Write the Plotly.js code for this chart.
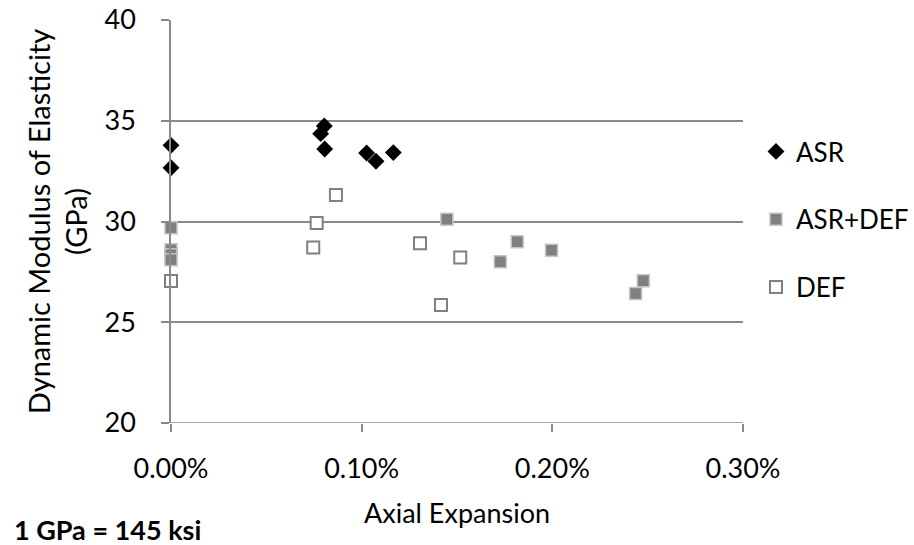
<!DOCTYPE html>
<html><head><meta charset="utf-8">
<script src="https://cdn.plot.ly/plotly-3.0.1.min.js"></script>
<style>html,body{margin:0;padding:0;background:#fff}#chart{width:914px;height:545px}</style>
</head><body><div id="chart"></div>
<script>
const asrX = [0, 0, 0.000804, 0.000785, 0.000806, 0.001026, 0.001075, 0.001166];
const asrY = [33.78, 32.67, 34.74, 34.36, 33.6, 33.4, 32.99, 33.42];
const asrDefX = [0, 0, 0, 0, 0.001447, 0.001816, 0.001727, 0.001996, 0.002477, 0.002437];
const asrDefY = [29.69, 28.6, 28.35, 28.1, 30.11, 29.0, 28.0, 28.57, 27.06, 26.43];
const defX = [0, 0.000865, 0.000764, 0.000746, 0.001306, 0.001517, 0.001416];
const defY = [27.05, 31.31, 29.92, 28.71, 28.92, 28.21, 25.86];
const xTicks = [0, 0.001, 0.002, 0.003];
const xTickText = ['0.00%', '0.10%', '0.20%', '0.30%'];
const yTicks = [20, 25, 30, 35, 40];

const font = 'Lato, "Open Sans", sans-serif';
const traces = [
  {x: asrX, y: asrY, name: 'ASR', type: 'scatter', mode: 'markers', legendgroup: 'a', cliponaxis: false,
   marker: {symbol: 'diamond', size: 13, color: '#000000', line: {width: 0}}},
  {x: asrDefX, y: asrDefY, name: 'ASR+DEF', type: 'scatter', mode: 'markers', legendgroup: 'b', cliponaxis: false,
   marker: {symbol: 'square', size: 12, color: '#808080', line: {width: 1.5, color: '#c4c4c4'}}},
  {x: defX, y: defY, name: 'DEF', type: 'scatter', mode: 'markers', legendgroup: 'c', cliponaxis: false,
   marker: {symbol: 'square', size: 12, color: '#ffffff', line: {width: 2, color: '#808080'}}}
];
const gray = '#8a8a8a';
const layout = {
  width: 914, height: 545,
  margin: {l: 171, r: 171, t: 20, b: 122, autoexpand: false},
  paper_bgcolor: '#fff', plot_bgcolor: '#fff',
  font: {family: font, size: 27, color: '#000'},
  showlegend: true,
  legend: {x: 1.0227, y: 0.732, xanchor: 'left', yanchor: 'top', font: {size: 26},
           traceorder: 'grouped', tracegroupgap: 31, bgcolor: 'rgba(0,0,0,0)'},
  xaxis: {range: [0, 0.003], tickvals: xTicks, ticktext: xTickText, showgrid: false,
          zeroline: false, showline: false, ticks: 'outside', ticklen: 8, tickcolor: gray, tickwidth: 1.5,
          ticklabelstandoff: 14,
          title: {text: 'Axial Expansion', font: {size: 27}, standoff: 20}, automargin: false},
  yaxis: {range: [20, 40], tickvals: yTicks, showgrid: true, gridcolor: gray, gridwidth: 1.5,
          zeroline: false, showline: true, linecolor: gray, linewidth: 1.5, ticks: 'outside',
          ticklen: 8, tickcolor: gray, tickwidth: 1.5, ticklabelstandoff: 20,
          title: {text: 'Dynamic Modulus of Elasticity<br>(GPa)', font: {size: 29}, standoff: 8},
          automargin: false},
  shapes: [{type: 'line', xref: 'paper', yref: 'y', x0: 0, x1: 1, y0: 20, y1: 20,
            line: {color: gray, width: 1.5}}],
  annotations: [{text: '<b>1 GPa = 145 ksi</b>', xref: 'paper', yref: 'paper', x: -159/572, y: -106/403,
                 xanchor: 'left', yanchor: 'middle', showarrow: false, font: {size: 27}}]
};
Plotly.newPlot('chart', traces, layout, {displayModeBar: false});
</script></body></html>
